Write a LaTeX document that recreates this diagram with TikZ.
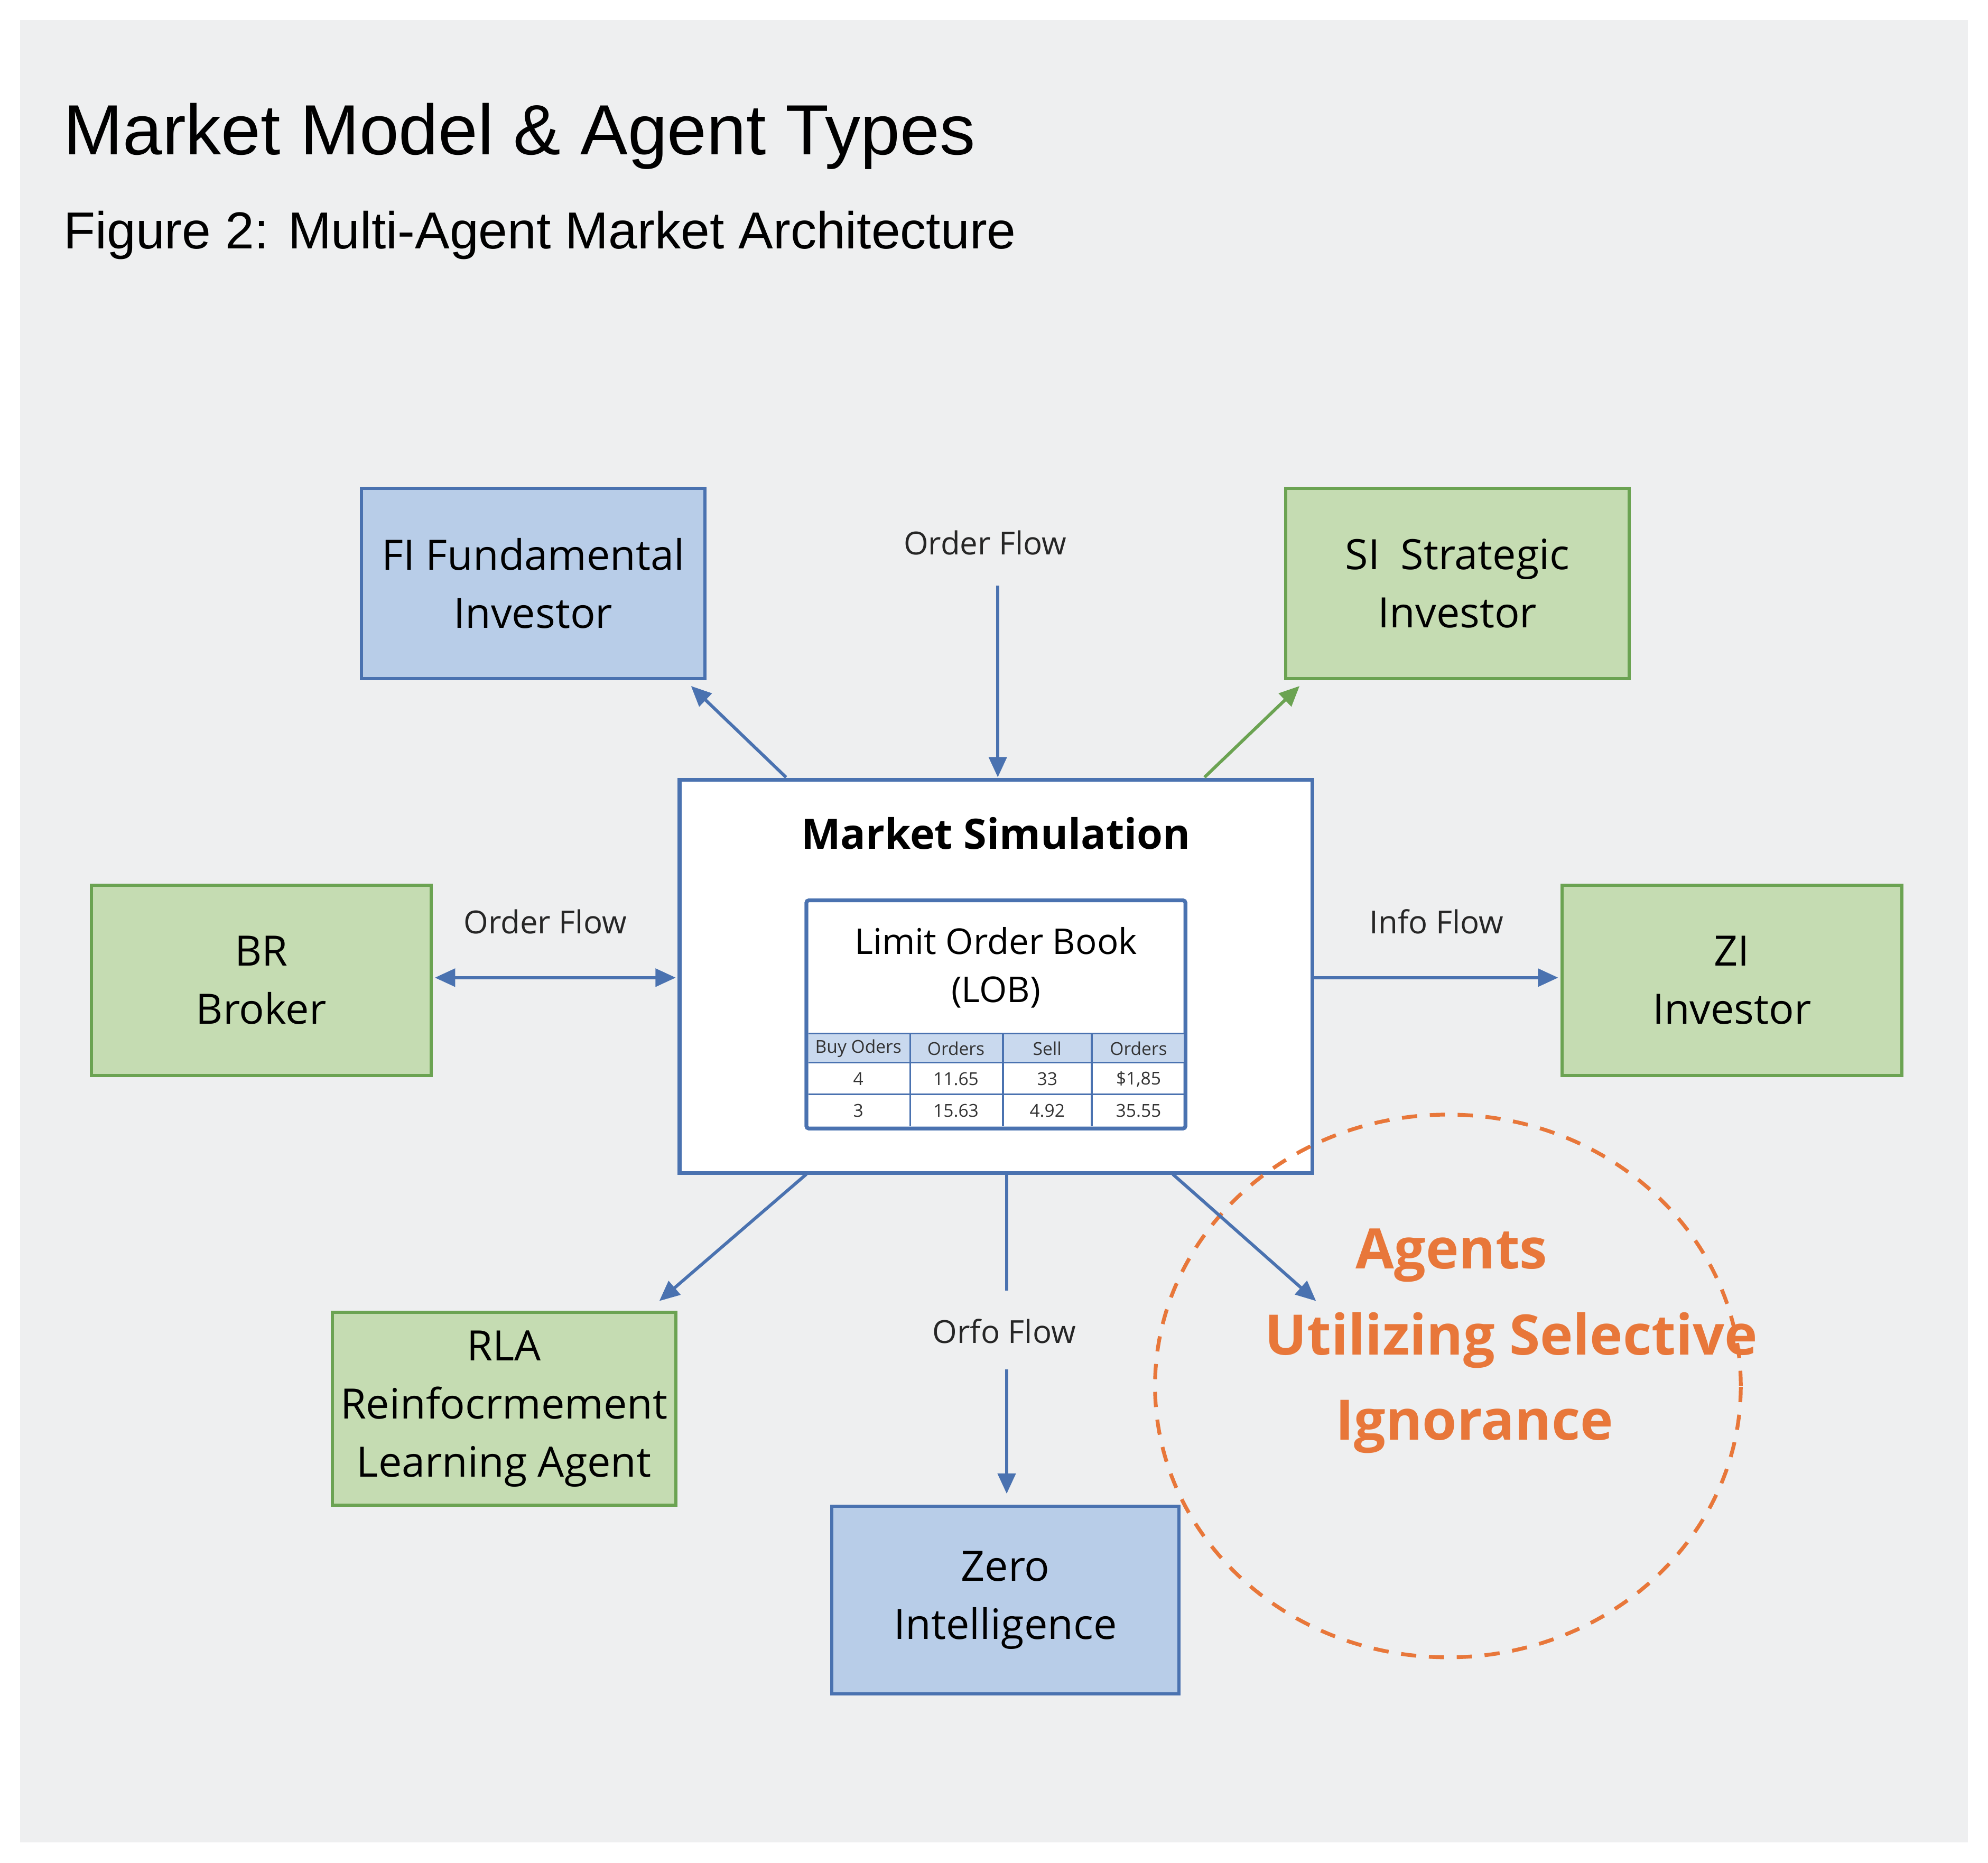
\documentclass[tikz,border=0pt]{standalone}
\usepackage{fontspec}
\setmainfont{Liberation Sans}
\newfontfamily\boxf{Open Sans}
\usetikzlibrary{arrows.meta}
\definecolor{bgc}{HTML}{EEEFF0}
\definecolor{bfill}{HTML}{B8CDE8}
\definecolor{bdraw}{HTML}{4A72B0}
\definecolor{gfill}{HTML}{C5DCB2}
\definecolor{gdraw}{HTML}{6BA352}
\definecolor{org}{HTML}{E8773A}
\definecolor{hdr}{HTML}{C9D9EE}
\begin{document}
\begin{tikzpicture}[x=1pt,y=-1pt,
  box/.style={draw,line width=2.5pt,align=center,inner sep=0pt,font=\boxf\fontsize{33}{46}\selectfont},
  bbox/.style={box,fill=bfill,draw=bdraw},
  gbox/.style={box,fill=gfill,draw=gdraw},
  arr/.style={draw=bdraw,line width=2.5pt,-{Triangle[length=16pt,width=14pt]}},
  lbl/.style={font=\boxf\fontsize{25}{30}\selectfont,text=black!85}]
\useasboundingbox (0,0) rectangle (1568,1469);
\fill[white] (0,0) rectangle (1568,1469);
\fill[bgc] (16,16) rectangle (1552,1453);
\node[anchor=base west,inner sep=0pt,font=\fontsize{56}{60}\selectfont] (title) at (50,122) {Market Model \& Agent Types};
\node[anchor=base west,inner sep=0pt,font=\fontsize{41}{46}\selectfont] (sub) at (50,196) {Figure 2: Multi-Agent Market Architecture};
% boxes
\node[bbox,minimum width=271pt,minimum height=150pt] (fi) at (420.5,460) {FI Fundamental\\Investor};
\node[gbox,minimum width=271pt,minimum height=150pt] (si) at (1149.5,460) {SI\enspace Strategic\\Investor};
\node[gbox,minimum width=268pt,minimum height=150pt] (br) at (206,773) {BR\\Broker};
\node[gbox,minimum width=268pt,minimum height=150pt] (zi) at (1366,773) {ZI\\Investor};
\node[gbox,minimum width=271pt,minimum height=152pt] (rla) at (397.5,1111) {RLA\\Reinfocrmement\\Learning Agent};
\node[bbox,minimum width=274pt,minimum height=148pt] (zero) at (793,1262) {Zero\\Intelligence};
% market simulation
\node[draw=bdraw,fill=white,line width=3pt,minimum width=499pt,minimum height=310pt,inner sep=0pt] (ms) at (785.5,770) {};
\node[font=\boxf\bfseries\fontsize{33}{40}\selectfont,inner sep=0pt] (mst) at (785.5,657) {Market Simulation};
\node[draw=bdraw,fill=white,line width=3pt,rounded corners=2pt,minimum width=299pt,minimum height=180pt,inner sep=0pt] (lob) at (785.5,800) {};
\node[font=\boxf\fontsize{28}{38}\selectfont,align=center,inner sep=0pt] (lobt) at (785.5,763) {Limit Order Book\\(LOB)};
\fill[hdr] (637.5,815) rectangle (933.5,838);
\draw[bdraw,line width=1.5pt] (637.5,815) -- (933.5,815) (637.5,838) -- (933.5,838) (637.5,863) -- (933.5,863)
  (718,815) -- (718,888) (791,815) -- (791,888) (861,815) -- (861,888);
\begin{scope}[every node/.style={font=\boxf\fontsize{14}{16}\selectfont,inner sep=0pt,text=black!80}]
\node (h1) at (677,827) {Buy Oders}; \node (h2) at (754,827) {Orders}; \node (h3) at (826,827) {Sell}; \node (h4) at (898,827) {Orders};
\node (a1) at (677,851) {4}; \node (a2) at (754,851) {11.65}; \node (a3) at (826,851) {33}; \node (a4) at (898,851) {\$1,85};
\node (b1) at (677,876) {3}; \node (b2) at (754,876) {15.63}; \node (b3) at (826,876) {4.92}; \node (b4) at (898,876) {35.55};
\end{scope}
% circle
\draw[org,line width=3pt,dash pattern=on 12pt off 10pt] (1142,1093) ellipse [x radius=231pt,y radius=214pt];
\begin{scope}[every node/.style={font=\boxf\bfseries\fontsize{44}{50}\selectfont,text=org,inner sep=0pt}]
\node (g1) at (1145,990) {Agents};
\node (g2) at (1192,1057) {Utilizing Selective};
\node (g3) at (1163,1125) {Ignorance};
\end{scope}
% labels
\node[lbl] (l1) at (777,428) {Order Flow};
\node[lbl] (l2) at (430,727) {Order Flow};
\node[lbl] (l3) at (1133,727) {Info Flow};
\node[lbl] (l4) at (792,1050) {Orfo Flow};
% connectors
\coordinate (c1) at (787,462);
\coordinate (m1) at (787,613);
\draw[arr] (c1) -- (m1);
\coordinate (fis) at (620,613); \coordinate (fie) at (545,541);
\draw[arr] (fis) -- (fie);
\coordinate (sis) at (950,613); \coordinate (sie) at (1025,541);
\draw[arr,draw=gdraw,-{Triangle[length=16pt,width=14pt,fill=gdraw]}] (sis) -- (sie);
\coordinate (brs) at (343,771); \coordinate (bre) at (533,771);
\draw[arr,{Triangle[length=16pt,width=14pt]}-{Triangle[length=16pt,width=14pt]}] (brs) -- (bre);
\coordinate (zis) at (1036,771); \coordinate (zie) at (1229,771);
\draw[arr] (zis) -- (zie);
\coordinate (rs) at (636,926); \coordinate (re) at (520,1026);
\draw[arr] (rs) -- (re);
\coordinate (ds) at (794,926); \coordinate (dm) at (794,1018); \coordinate (dn) at (794,1080); \coordinate (de) at (794,1178);
\draw[draw=bdraw,line width=2.5pt] (ds) -- (dm);
\draw[arr] (dn) -- (de);
\coordinate (os) at (925,926); \coordinate (oe) at (1038,1026);
\draw[arr] (os) -- (oe);
\end{tikzpicture}
\end{document}
